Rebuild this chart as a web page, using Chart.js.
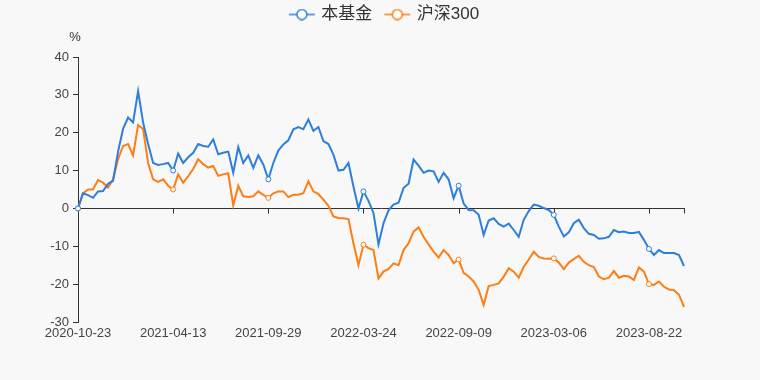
<!DOCTYPE html>
<html>
<head>
<meta charset="utf-8">
<script src="https://cdn.jsdelivr.net/npm/chart.js@4.4.0/dist/chart.umd.min.js"></script>
<style>
  html, body { margin: 0; padding: 0; background: #f8f8f8; }
</style>
</head>
<body>
<canvas id="myChart" width="760" height="380"></canvas>
<script>
const tickDates = ['2020-10-23', '2021-04-13', '2021-09-29', '2022-03-24', '2022-09-09', '2023-03-06', '2023-08-22'];
const tickEvery = 19;
const seriesNames = ['本基金', '沪深300'];
const seriesColors = ['#2e7fdb', '#fd7e14'];

const fundValues = [
  0, 4, 3.5, 2.8, 4.5, 4.6, 6.5, 7.3, 15, 21,
  24, 22.7, 31, 22.7, 17, 12, 11.5, 11.7, 12, 10,
  14.5, 12, 13.5, 14.7, 17, 16.5, 16.3, 18.2, 14.3, 14.7,
  15, 9.4, 16.2, 12, 14, 10.7, 14, 11.6, 7.7, 12,
  15.3, 16.9, 18, 20.9, 21.5, 20.9, 23.5, 20.5, 21.5, 17.8,
  17, 14.2, 10, 10.2, 12, 5.8, 0, 4.5, 2, -1.2,
  -9.5, -3.9, -0.5, 1, 1.5, 5.4, 6.5, 12.9, 11.3, 9.4,
  10, 9.8, 7, 9.4, 7.7, 2.7, 6, 1.3, -0.4, -0.5,
  -1.7, -7, -3.2, -2.6, -4.1, -4.8, -4, -5.7, -7.5, -3,
  -0.7, 1, 0.7, 0.1, -0.4, -1.7, -4.8, -7.4, -6.3, -3.9,
  -3, -5.2, -6.7, -7, -8, -7.9, -7.5, -5.7, -6.3, -6.1,
  -6.5, -6.5, -6.2, -8.3, -10.7, -12.3, -11, -11.8, -11.8, -11.8,
  -12.3, -15.2
];

const indexValues = [
  0, 4, 5, 5, 7.5, 6.8, 5.5, 7.7, 13, 16.5,
  17, 14, 22, 21, 12, 7.7, 7, 7.7, 6, 5,
  9, 6.8, 8.5, 10.4, 13, 11.7, 10.8, 11.2, 8.6, 9,
  9.3, 0.8, 6, 3.2, 3, 3.2, 4.5, 3.6, 2.8, 4,
  4.5, 4.5, 3, 3.6, 3.6, 4, 7.2, 4.5, 3.8, 2.3,
  0.7, -2.1, -2.5, -2.6, -2.8, -9.2, -15, -9.6, -10.5, -11,
  -18.5, -16.7, -16, -14.5, -15, -11, -9.2, -6.1, -5, -7.5,
  -9.5, -11.4, -13, -11, -12.3, -14.5, -13.5, -17, -18, -19.3,
  -21.5, -25.5, -20.5, -20.2, -19.8, -18, -15.8, -16.7, -18.3, -15.4,
  -13.5, -11.4, -12.8, -13.2, -13.3, -13.2, -14.3, -16, -14.3, -13.4,
  -12.5, -14.1, -15, -15.5, -18, -18.7, -18.3, -16.5, -18.3, -17.8,
  -18, -18.9, -15.6, -16.7, -20, -20.2, -19.3, -20.7, -21.4, -21.6,
  -22.8, -26
];

const labels = fundValues.map((v, i) => i % tickEvery === 0 ? tickDates[i / tickEvery] : '');

// legend icon: short line with a hollow circle
function makeIcon(color) {
  const c = document.createElement('canvas');
  c.width = 38;
  c.height = 12;
  const g = c.getContext('2d');
  g.strokeStyle = color;
  g.lineWidth = 1.5;
  g.beginPath();
  g.moveTo(10, 6);
  g.lineTo(36, 6);
  g.stroke();
  g.beginPath();
  g.arc(23, 6, 5, 0, Math.PI * 2);
  g.fillStyle = '#fff';
  g.fill();
  g.stroke();
  return c;
}
const icons = seriesColors.map(makeIcon);

const fontFamily = "'Liberation Sans', 'Noto Sans CJK SC', sans-serif";

const zeroAxis = {
  id: 'zeroAxis',
  beforeDatasetsDraw(chart) {
    const { ctx, chartArea, scales: { x, y } } = chart;
    const y0 = Math.round(y.getPixelForValue(0)) + 0.5;
    ctx.save();
    ctx.strokeStyle = '#333';
    ctx.lineWidth = 1;
    ctx.beginPath();
    ctx.moveTo(chartArea.left, y0);
    ctx.lineTo(chartArea.right + 1, y0);
    x.ticks.forEach((t, i) => {
      if (i > 0 && labels[i]) {
        const px = Math.round(x.getPixelForTick(i)) + 0.5;
        ctx.moveTo(px, y0);
        ctx.lineTo(px, y0 + 5);
      }
    });
    const pr = Math.round(chartArea.right) + 0.5;
    ctx.moveTo(pr, y0);
    ctx.lineTo(pr, y0 + 5);
    ctx.stroke();
    ctx.fillStyle = '#333';
    ctx.font = '13px ' + fontFamily;
    ctx.textAlign = 'center';
    ctx.fillText('%', 75, 37);
    ctx.restore();
  }
};

const pointSize = (c) => c.dataIndex % tickEvery === 0 ? 2.5 : 0;

const myChart = new Chart(document.getElementById('myChart'), {
  type: 'line',
  data: {
    labels: labels,
    datasets: [
      {
        label: seriesNames[0],
        data: fundValues,
        borderColor: seriesColors[0],
        borderWidth: 2,
        pointRadius: pointSize,
        pointBackgroundColor: '#fff',
        pointBorderColor: seriesColors[0],
        pointBorderWidth: 1,
        tension: 0
      },
      {
        label: seriesNames[1],
        data: indexValues,
        borderColor: seriesColors[1],
        borderWidth: 2,
        pointRadius: pointSize,
        pointBackgroundColor: '#fff',
        pointBorderColor: seriesColors[1],
        pointBorderWidth: 1,
        tension: 0
      }
    ]
  },
  options: {
    responsive: false,
    animation: false,
    layout: { padding: { left: 0, right: 76, top: 0, bottom: 0 } },
    scales: {
      x: {
        grid: { display: false, drawTicks: false },
        border: { display: false },
        ticks: {
          autoSkip: false,
          maxRotation: 0,
          padding: 4,
          color: '#444',
          font: { size: 13, family: fontFamily }
        },
        afterFit: (s) => { s.height = 58; }
      },
      y: {
        min: -30,
        max: 40,
        grid: { display: true, drawOnChartArea: false, color: '#333', tickLength: 5 },
        border: { color: '#333' },
        ticks: {
          stepSize: 10,
          padding: 4,
          color: '#444',
          font: { size: 13, family: fontFamily }
        },
        afterFit: (s) => { s.width = 78; }
      }
    },
    plugins: {
      tooltip: { enabled: false },
      legend: {
        weight: 3000,
        fullSize: false,
        labels: {
          usePointStyle: true,
          pointStyleWidth: 30,
          padding: 6,
          color: '#333',
          font: { size: 17, family: fontFamily },
          generateLabels: (chart) => {
            const items = Chart.defaults.plugins.legend.labels.generateLabels(chart);
            items.forEach((it, i) => { it.pointStyle = icons[i]; });
            return items;
          }
        }
      },
      subtitle: {
        display: true,
        fullSize: false,
        text: ' ',
        font: { size: 1, lineHeight: 1 },
        padding: { top: 0, bottom: 23 }
      }
    }
  },
  plugins: [zeroAxis]
});
</script>
</body>
</html>
